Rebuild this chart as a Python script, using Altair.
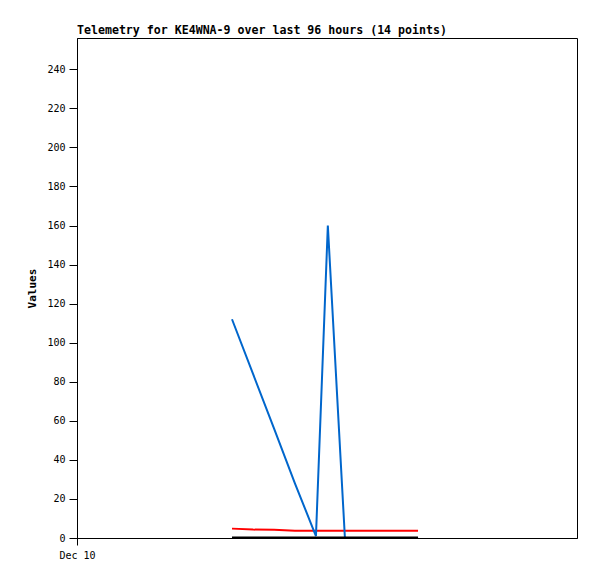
import altair as alt
import pandas as pd

# timestamps as hours after Dec 10 00:00
hours = [7.44, 8.45, 9.46, 10.46, 11.47, 12.04, 12.86, 13.39, 13.92, 14.45, 14.98, 15.50, 15.94, 16.37]
blue_vals = [112, 84, 56, 28, 1, 160, 0, 0, 0, 0, 0, 0, 0, 0]
red_vals = [4.8, 4.3, 4.2, 3.7, 3.7, 3.7, 3.7, 3.7, 3.7, 3.7, 3.7, 3.7, 3.7, 3.7]
black_vals = [0.25] * 14

x_ticks = [0]
y_ticks = list(range(0, 241, 20))
title_text = "Telemetry for KE4WNA-9 over last 96 hours (14 points)"

MONO = "DejaVu Sans Mono"

df = pd.DataFrame({"hour": hours, "blue": blue_vals, "red": red_vals, "black": black_vals})

xenc = alt.X(
    "hour:Q",
    scale=alt.Scale(domain=[0, 24], nice=False, zero=False),
    axis=alt.Axis(values=x_ticks, labelExpr="'Dec 10'", tickSize=7, labelPadding=5,
                  labelFlush=False, labelAlign="center",
                  title=None, grid=False, labelFont=MONO, labelFontSize=10,
                  labelColor="black", domainColor="black", tickColor="black"),
)


def series(col, color):
    return alt.Chart(df).mark_line(color=color, strokeWidth=2, clip=True).encode(
        x=xenc,
        y=alt.Y(
            f"{col}:Q",
            scale=alt.Scale(domain=[0, 256], nice=False, zero=True),
            axis=alt.Axis(values=y_ticks, tickSize=8, labelPadding=4, grid=False,
                          title="Values", titleFont=MONO, titleFontSize=11,
                          titleFontWeight="bold", titleX=-45, titleY=250,
                          titleAlign="center", titleBaseline="middle",
                          labelFont=MONO, labelFontSize=10, labelColor="black",
                          domainColor="black", tickColor="black", titleColor="black"),
        ),
    )


chart = alt.layer(
    series("red", "#FF0000"),
    series("blue", "#0066CC"),
    series("black", "#000000"),
).properties(
    width=500,
    height=500,
    title=alt.TitleParams(title_text, anchor="start", frame="group", font=MONO,
                          fontSize=11.6, fontWeight="bold", color="black", offset=1),
    autosize=alt.AutoSizeParams(type="none"),
    padding={"left": 69, "top": 30, "right": 12, "bottom": 30},
).configure(background="white").configure_view(stroke="black", strokeWidth=1)

chart.save("out.html", embed_options={"renderer": "svg", "actions": False})
